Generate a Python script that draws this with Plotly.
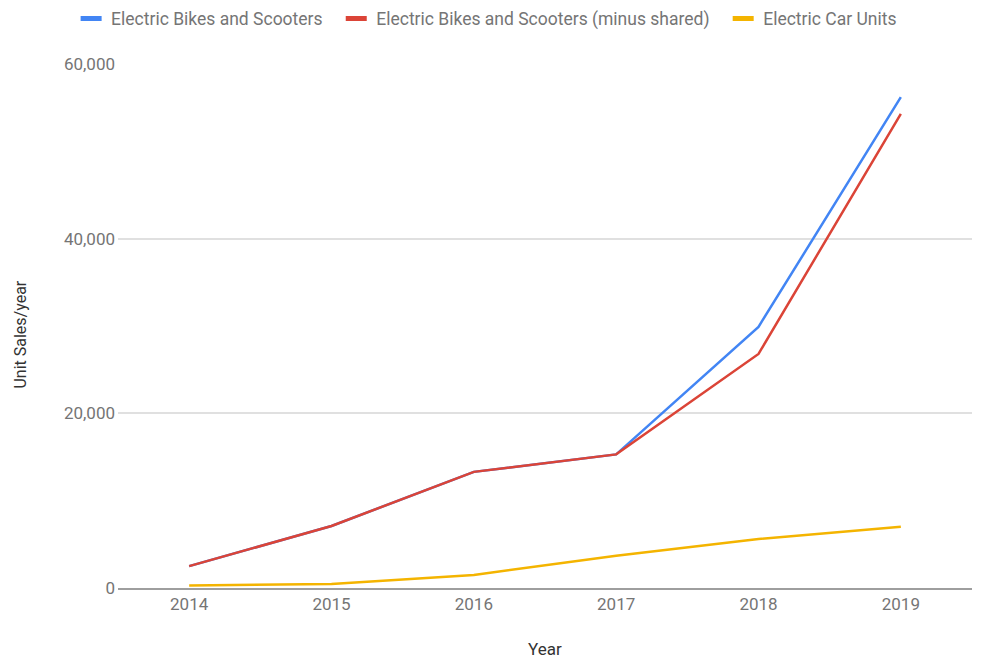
import plotly.graph_objects as go

# yearly unit sales
years = ["2014", "2015", "2016", "2017", "2018", "2019"]
bikes_scooters = [2500, 7100, 13300, 15300, 29900, 56200]
bikes_minus_shared = [2500, 7100, 13300, 15300, 26800, 54300]
car_units = [300, 460, 1500, 3700, 5600, 7000]

series = [
    ("Electric Bikes and Scooters", bikes_scooters, "#4285F4"),
    ("Electric Bikes and Scooters (minus shared)", bikes_minus_shared, "#DB4437"),
    ("Electric Car Units", car_units, "#F4B400"),
]

fig = go.Figure()

### lines (no legend, legend uses small bar markers below) ###
for name, vals, col in series:
    fig.add_trace(go.Scatter(x=years, y=vals, mode="lines", name=name,
                             line=dict(color=col, width=2.5), showlegend=False))

### legend entries with short bar symbols ###
for name, vals, col in series:
    fig.add_trace(go.Scatter(x=[None], y=[None], mode="markers", name=name + "  ",
                             marker=dict(symbol="line-ew", size=15, color=col,
                                         line=dict(color=col, width=5))))

### axis titles as annotations so the plot area stays fixed ###
fig.add_annotation(text="Year", xref="paper", yref="paper", x=0.5, y=-0.139,
                   showarrow=False, font=dict(size=17, color="#333"))
fig.add_annotation(text="Unit Sales/year", xref="x domain", x=-0.114, xanchor="center",
                   yref="paper", y=0.483, showarrow=False, textangle=-90,
                   font=dict(size=16, color="#333"))

# page body adds ~8px offset, margins compensate for it
fig.update_layout(
    width=990, height=658,
    margin=dict(l=110, r=26, t=56, b=78, autoexpand=False),
    paper_bgcolor="white", plot_bgcolor="white",
    font=dict(family="Roboto", size=17, color="#757575"),
    legend=dict(orientation="h", xref="container", x=0.488, xanchor="center",
                yref="container", y=0.984, yanchor="middle",
                font=dict(size=17.5, color="#757575"), itemwidth=30,
                bgcolor="rgba(0,0,0,0)"),
    xaxis=dict(type="category", range=[-0.5, 5.5], showgrid=False,
               showline=True, linecolor="#9e9e9e", linewidth=2,
               ticks="", ticklen=0, ticklabelstandoff=0, automargin=False),
    yaxis=dict(range=[0, 60000], tickvals=[0, 20000, 40000, 60000],
               tickformat=",d", showgrid=True, gridcolor="#e0e0e0", gridwidth=1.5,
               zeroline=False, ticks="", ticklen=0, ticklabelstandoff=2,
               automargin=False),
)

fig.write_html("out.html")
